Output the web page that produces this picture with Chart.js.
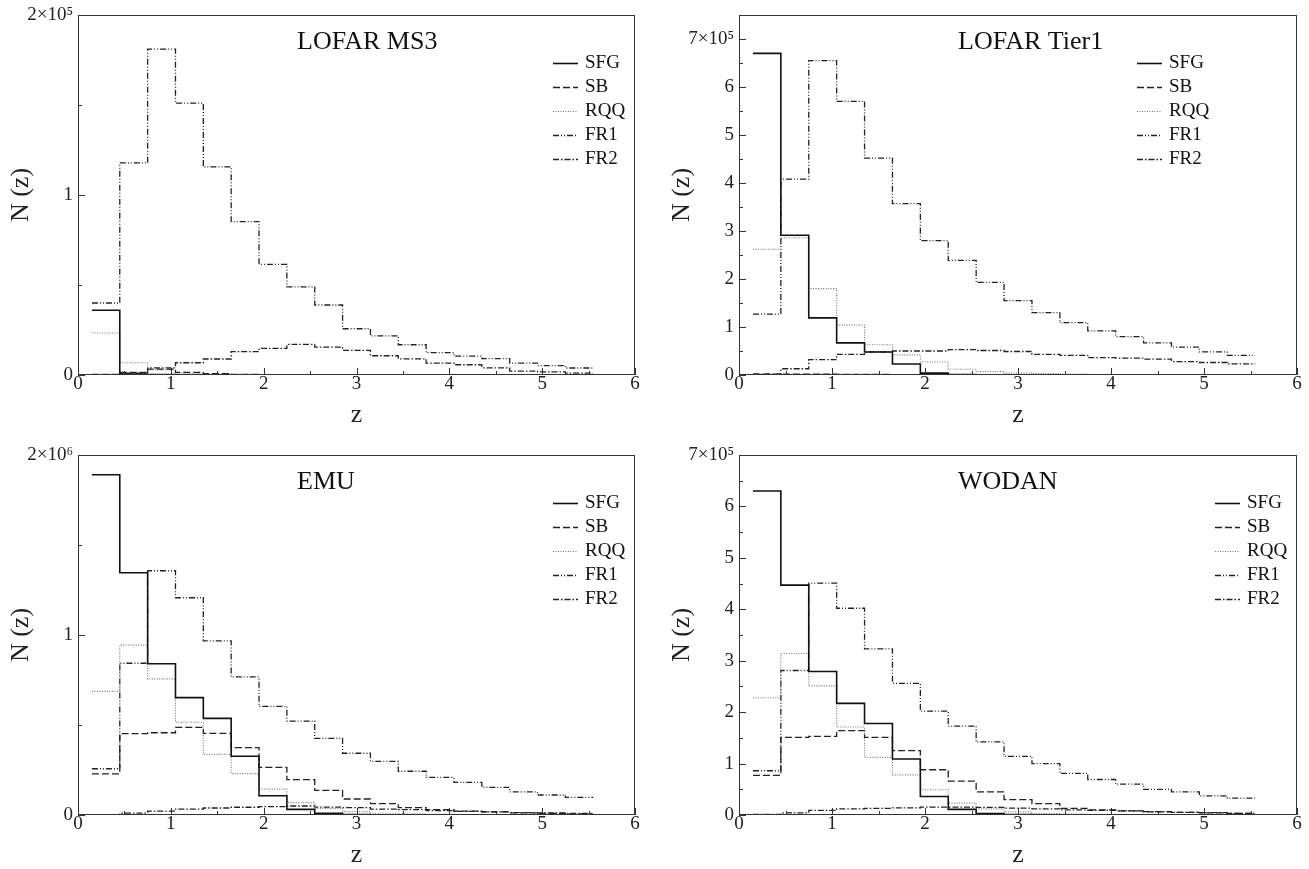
<!DOCTYPE html>
<html>
<head>
<meta charset="utf-8">
<script src="https://cdn.jsdelivr.net/npm/chart.js@4.4.1/dist/chart.umd.min.js"></script>
<style>
  html, body { margin: 0; padding: 0; background: #fff; overflow: hidden; }
  body { width: 1309px; height: 869px; position: relative; }
  .panel { position: absolute; }
</style>
</head>
<body>
<div class="panel" style="left:0px;top:0px"><canvas id="ms3Chart" width="645" height="435"></canvas></div>
<div class="panel" style="left:661px;top:0px"><canvas id="tier1Chart" width="646" height="435"></canvas></div>
<div class="panel" style="left:0px;top:440px"><canvas id="emuChart" width="645" height="435"></canvas></div>
<div class="panel" style="left:661px;top:440px"><canvas id="wodanChart" width="646" height="435"></canvas></div>
<script>
// bin edges in z (18 bins)
const zEdges = [0.15, 0.45, 0.75, 1.05, 1.35, 1.65, 1.95, 2.25, 2.55, 2.85, 3.15, 3.45, 3.75, 4.05, 4.35, 4.65, 4.95, 5.25, 5.55];
const xTicks = [0, 1, 2, 3, 4, 5, 6];

// LOFAR MS3
const ms3SFG = [36000, 500, 200, 100, 50, 0, 0, 0, 0, 0, 0, 0, 0, 0, 0, 0, 0, 0];
const ms3SB  = [300, 1500, 3300, 1500, 800, 400, 200, 100, 50, 20, 0, 0, 0, 0, 0, 0, 0, 0];
const ms3RQQ = [23300, 6800, 2800, 1000, 500, 300, 200, 100, 50, 30, 20, 10, 0, 0, 0, 0, 0, 0];
const ms3FR1 = [40000, 117800, 181000, 151000, 115600, 85200, 61500, 49000, 38900, 25700, 21700, 16800, 12400, 10500, 9100, 6600, 5200, 3900];
const ms3FR2 = [100, 1000, 4000, 6800, 8900, 13000, 14800, 17000, 15500, 13700, 10700, 9000, 6600, 5700, 4000, 2200, 1700, 1000];

// LOFAR Tier1
const tier1SFG = [670000, 291000, 119000, 67000, 48000, 23000, 4000, 1000, 0, 0, 0, 0, 0, 0, 0, 0, 0, 0];
const tier1SB  = [2000, 2000, 2000, 1500, 1000, 500, 300, 100, 0, 0, 0, 0, 0, 0, 0, 0, 0, 0];
const tier1RQQ = [262000, 286000, 180000, 104000, 63000, 42000, 27000, 12000, 7000, 4000, 3000, 2000, 1000, 1000, 500, 300, 200, 100];
const tier1FR1 = [127000, 408000, 655000, 570000, 452000, 357000, 280000, 239000, 193000, 155000, 130000, 109000, 92000, 80000, 67000, 58000, 48000, 41000];
const tier1FR2 = [2000, 13000, 32000, 43000, 48000, 50000, 50000, 53000, 51000, 49000, 43000, 41000, 36000, 35000, 33000, 28000, 26000, 23000];

// EMU
const emuSFG = [1890000, 1346000, 840000, 652000, 537000, 326000, 107000, 31000, 10000, 3000, 1000, 0, 0, 0, 0, 0, 0, 0];
const emuSB  = [228000, 452000, 457000, 487000, 454000, 374000, 265000, 196000, 137000, 89000, 63000, 41000, 30000, 22000, 17000, 12000, 9000, 6000];
const emuRQQ = [687000, 944000, 756000, 515000, 337000, 230000, 144000, 69000, 37000, 19000, 10000, 6000, 4000, 3000, 2000, 1000, 1000, 1000];
const emuFR1 = [257000, 843000, 1357000, 1207000, 967000, 767000, 604000, 522000, 426000, 343000, 298000, 243000, 209000, 181000, 154000, 128000, 111000, 98000];
const emuFR2 = [2000, 10000, 22000, 33000, 39000, 43000, 46000, 50000, 44000, 41000, 33000, 30000, 24000, 20000, 17000, 13000, 11000, 9000];

// WODAN
const wodanSFG = [630000, 447000, 279000, 217000, 178000, 109000, 36000, 11000, 3000, 1000, 0, 0, 0, 0, 0, 0, 0, 0];
const wodanSB  = [77000, 151000, 153000, 164000, 151000, 125000, 88000, 66000, 45000, 30000, 22000, 13000, 10000, 8000, 6000, 5000, 4000, 3000];
const wodanRQQ = [228000, 314000, 251000, 171000, 112000, 78000, 49000, 23000, 12000, 6000, 3000, 2000, 1000, 1000, 500, 300, 200, 100];
const wodanFR1 = [86000, 281000, 451000, 402000, 323000, 256000, 202000, 173000, 142000, 114000, 100000, 81000, 69000, 60000, 50000, 45000, 37000, 33000];
const wodanFR2 = [1000, 4000, 9000, 12000, 13000, 14000, 15500, 15500, 15000, 13500, 12000, 10000, 9000, 8000, 6500, 5000, 4500, 3000];

const seriesNames = ['SFG', 'SB', 'RQQ', 'FR1', 'FR2'];
const seriesDash = [[], [7, 3], [1, 1.5], [6, 2, 1, 2, 1, 2], [6, 2, 1.5, 2]];
const seriesColor = ['#111', '#222', '#777', '#222', '#222'];
const seriesWidth = [1.6, 1.3, 1.1, 1.3, 1.3];

const serif = "'Liberation Serif', 'Times New Roman', serif";

const panels = [
    { id: 'ms3Chart', title: 'LOFAR MS3', series: [ms3SFG, ms3SB, ms3RQQ, ms3FR1, ms3FR2], yMax: 200000, unit: 1e5, topLabel: 2, sup: '⁵', legendX: 475 },
    { id: 'tier1Chart', title: 'LOFAR Tier1', series: [tier1SFG, tier1SB, tier1RQQ, tier1FR1, tier1FR2], yMax: 750000, unit: 1e5, topLabel: 7, sup: '⁵', legendX: 398 },
    { id: 'emuChart', title: 'EMU', series: [emuSFG, emuSB, emuRQQ, emuFR1, emuFR2], yMax: 2000000, unit: 1e6, topLabel: 2, sup: '⁶', legendX: 475 },
    { id: 'wodanChart', title: 'WODAN', series: [wodanSFG, wodanSB, wodanRQQ, wodanFR1, wodanFR2], yMax: 700000, unit: 1e5, topLabel: 7, sup: '⁵', legendX: 476 }
];

// step histogram: one point per left edge, last value repeated at the right edge
function histPoints(values) {
    const pts = values.map((v, i) => ({ x: zEdges[i], y: v }));
    pts.push({ x: zEdges[zEdges.length - 1], y: values[values.length - 1] });
    return pts;
}

// frame, inward ticks, panel name and legend
function makeDecor(panel) {
    return {
        id: 'decor',
        afterDraw(chart) {
            const ctx = chart.ctx;
            const a = chart.chartArea;
            const xs = chart.scales.x;
            const ys = chart.scales.y;
            ctx.save();
            ctx.strokeStyle = '#333';
            ctx.lineWidth = 1;
            ctx.setLineDash([]);
            ctx.strokeRect(a.left + 0.5, a.top + 0.5, a.right - a.left - 1, a.bottom - a.top - 1);

            ctx.beginPath();
            xs.ticks.forEach(t => {
                const px = Math.round(xs.getPixelForValue(t.value)) + 0.5;
                const len = Number.isInteger(t.value) ? 7 : 4;
                ctx.moveTo(px, a.bottom);
                ctx.lineTo(px, a.bottom - len);
            });
            ys.ticks.forEach(t => {
                const py = Math.round(ys.getPixelForValue(t.value)) + 0.5;
                const len = t.label !== '' ? 7 : 4;
                ctx.moveTo(a.left, py);
                ctx.lineTo(a.left + len, py);
            });
            ctx.stroke();

            ctx.fillStyle = '#111';
            ctx.font = '26px ' + serif;
            ctx.textAlign = 'left';
            ctx.textBaseline = 'middle';
            ctx.fillText(panel.title, a.left + 219, a.top + 27);

            ctx.font = '19px ' + serif;
            chart.data.datasets.forEach((ds, i) => {
                const y = a.top + 48 + i * 24;
                const x0 = a.left + panel.legendX;
                ctx.beginPath();
                ctx.strokeStyle = ds.borderColor;
                ctx.lineWidth = ds.borderWidth;
                ctx.setLineDash(ds.borderDash);
                ctx.moveTo(x0, y + 0.5);
                ctx.lineTo(x0 + 25, y + 0.5);
                ctx.stroke();
                ctx.setLineDash([]);
                ctx.fillText(ds.label, x0 + 32, y);
            });
            ctx.restore();
        }
    };
}

panels.forEach(panel => {
    const ctx = document.getElementById(panel.id).getContext('2d');

    const datasets = panel.series.map((values, i) => ({
        label: seriesNames[i],
        data: histPoints(values),
        stepped: 'before',
        borderColor: seriesColor[i],
        borderWidth: seriesWidth[i],
        borderDash: seriesDash[i],
        pointRadius: 0,
        fill: false
    }));

    new Chart(ctx, {
        type: 'line',
        data: { datasets: datasets },
        options: {
            responsive: false,
            animation: false,
            layout: { padding: { top: 15, right: 10, left: 0, bottom: 0 } },
            plugins: { legend: { display: false }, tooltip: { enabled: false } },
            scales: {
                x: {
                    type: 'linear',
                    min: 0,
                    max: 6,
                    grid: { display: false, drawTicks: false },
                    border: { display: false },
                    ticks: {
                        stepSize: 0.5,
                        autoSkip: false,
                        maxRotation: 0,
                        padding: 0,
                        color: '#222',
                        font: { family: serif, size: 19, lineHeight: 1 },
                        callback: v => (xTicks.includes(v) ? String(v) : '')
                    },
                    title: {
                        display: true,
                        text: 'z',
                        color: '#222',
                        font: { family: serif, size: 26 },
                        padding: { top: 0, bottom: 4 }
                    },
                    afterFit: scale => { scale.height = 60; }
                },
                y: {
                    type: 'linear',
                    min: 0,
                    max: panel.yMax,
                    grid: { display: false, drawTicks: false },
                    border: { display: false },
                    ticks: {
                        stepSize: panel.unit / 2,
                        maxTicksLimit: 100,
                        autoSkip: false,
                        padding: 5,
                        color: '#222',
                        font: { family: serif, size: 19, lineHeight: 1 },
                        callback: v => {
                            const u = v / panel.unit;
                            if (Math.abs(u - Math.round(u)) > 1e-6) return '';
                            const n = Math.round(u);
                            if (n === panel.topLabel) return n + '×10' + panel.sup;
                            return String(n);
                        }
                    },
                    title: {
                        display: true,
                        text: 'N (z)',
                        color: '#222',
                        font: { family: serif, size: 26 },
                        padding: { top: 6, bottom: 0 }
                    },
                    afterFit: scale => { scale.width = 78; }
                }
            }
        },
        plugins: [makeDecor(panel)]
    });
});
</script>
</body>
</html>
